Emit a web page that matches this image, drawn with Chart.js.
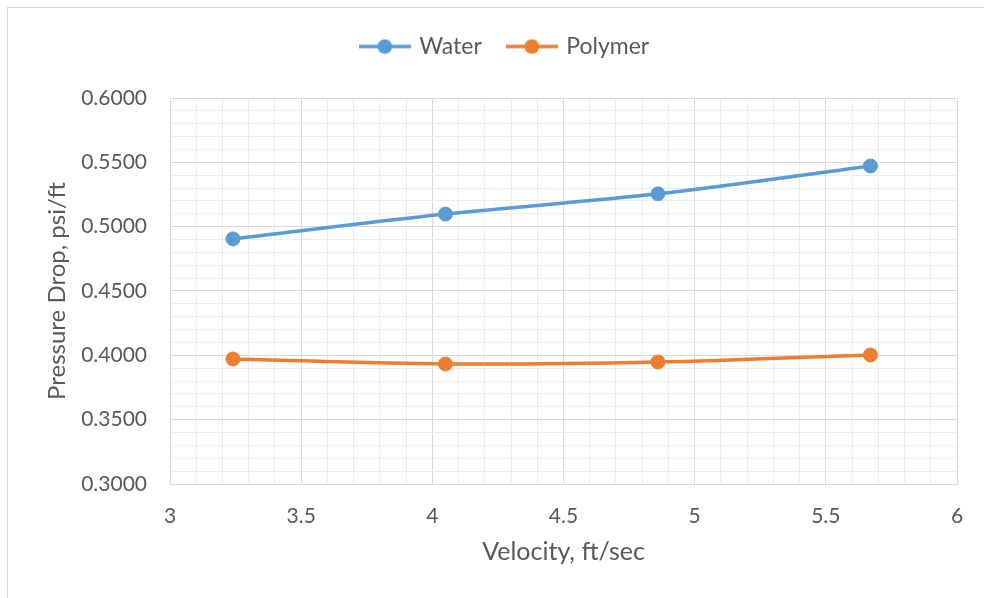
<!DOCTYPE html>
<html>
<head>
<meta charset="utf-8">
<script src="https://cdn.jsdelivr.net/npm/chart.js@4.4.1/dist/chart.umd.min.js"></script>
<style>
  html, body { margin: 0; padding: 0; background: #fff; overflow: hidden; }
  #wrap { position: relative; width: 984px; height: 598px; }
  #frame { position: absolute; left: 7px; top: 7px; width: 1100px; height: 700px; border: 1px solid #d9d9d9; }
  canvas { position: absolute; left: 0; top: 0; }
</style>
</head>
<body>
<div id="wrap">
  <div id="frame"></div>
  <canvas id="chart" width="984" height="598"></canvas>
</div>
<script>
// values
var velocity = [3.24, 4.05, 4.86, 5.67]
var water = [0.4905, 0.5098, 0.5255, 0.5472]
var polymer = [0.3972, 0.3933, 0.3948, 0.4003]
var seriesNames = ['Water', 'Polymer']
var seriesColors = ['#5B9BD5', '#ED7D31']

var textColor = '#595959'
var majorGrid = '#d9d9d9'
var minorGrid = '#ececec'
var fontFamily = 'Lato, "Open Sans", sans-serif'

function points(ys){
    var out = []
    for (var i = 0; i < velocity.length; i++){
        out.push({x: velocity[i], y: ys[i]})
    }
    return out
}

function isMajor(v, step){
    var r = v / step
    return Math.abs(r - Math.round(r)) < 1e-6
}

// little line + marker picture for the legend, like Excel draws it
function legendMark(color){
    var c = document.createElement('canvas')
    c.width = 52
    c.height = 16
    var g = c.getContext('2d')
    g.strokeStyle = color
    g.lineWidth = 3.5
    g.beginPath()
    g.moveTo(0, 8)
    g.lineTo(52, 8)
    g.stroke()
    g.fillStyle = color
    g.beginPath()
    g.arc(26, 8, 7.3, 0, Math.PI * 2)
    g.fill()
    return c
}

var datasets = [water, polymer].map(function(ys, i){
    return {
        label: seriesNames[i],
        data: points(ys),
        borderColor: seriesColors[i],
        backgroundColor: seriesColors[i],
        pointBackgroundColor: seriesColors[i],
        pointBorderColor: seriesColors[i],
        pointStyle: 'circle',
        pointRadius: 7,
        pointHoverRadius: 7,
        pointBorderWidth: 1,
        borderWidth: 3.5,
        tension: 0.33,
        fill: false
    }
})

var marks = seriesColors.map(legendMark)

var config = {
    type: 'line',
    data: { datasets: datasets },
    options: {
        responsive: false,
        animation: false,
        layout: { padding: { left: 54, right: 27, top: 8, bottom: 27 } },
        plugins: {
            tooltip: { enabled: false },
            legend: {
                position: 'top',
                labels: {
                    usePointStyle: true,
                    pointStyleWidth: 46,
                    padding: 27,
                    color: textColor,
                    font: { family: fontFamily, size: 23 },
                    generateLabels: function(chart){
                        return chart.data.datasets.map(function(ds, i){
                            return {
                                text: ds.label,
                                fillStyle: ds.borderColor,
                                strokeStyle: ds.borderColor,
                                fontColor: textColor,
                                lineWidth: 0,
                                pointStyle: marks[i],
                                datasetIndex: i,
                                hidden: false
                            }
                        })
                    }
                }
            },
            // empty box under the legend, only used as a spacer
            title: {
                display: true,
                text: '',
                weight: 500,
                font: { size: 10 },
                padding: { top: 0, bottom: 18 }
            }
        },
        scales: {
            x: {
                type: 'linear',
                min: 3,
                max: 6,
                afterFit: function(s){ s.height = 87 },
                border: { color: majorGrid },
                grid: {
                    drawTicks: false,
                    color: function(ctx){
                        return ctx.tick && isMajor(ctx.tick.value, 0.5) ? majorGrid : minorGrid
                    }
                },
                ticks: {
                    stepSize: 0.1,
                    autoSkip: false,
                    maxRotation: 0,
                    padding: 20,
                    color: textColor,
                    font: { family: fontFamily, size: 21 },
                    callback: function(v){
                        return isMajor(v, 0.5) ? String(Math.round(v * 10) / 10) : ''
                    }
                },
                title: {
                    display: true,
                    text: 'Velocity, ft/sec',
                    color: textColor,
                    padding: { top: 4, bottom: 4 },
                    font: { family: fontFamily, size: 25 }
                }
            },
            y: {
                min: 0.3,
                max: 0.6,
                afterFit: function(s){ s.width = 116 },
                border: { color: majorGrid },
                grid: {
                    drawTicks: false,
                    color: function(ctx){
                        return ctx.tick && isMajor(ctx.tick.value, 0.05) ? majorGrid : minorGrid
                    }
                },
                ticks: {
                    stepSize: 0.01,
                    autoSkip: false,
                    padding: 23,
                    color: textColor,
                    font: { family: fontFamily, size: 21 },
                    callback: function(v){
                        return isMajor(v, 0.05) ? v.toFixed(4) : ''
                    }
                },
                title: {
                    display: true,
                    text: 'Pressure Drop, psi/ft',
                    color: textColor,
                    padding: { top: -11, bottom: 4 },
                    font: { family: fontFamily, size: 24 }
                }
            }
        }
    }
}

var myChart = new Chart(document.getElementById('chart'), config)
</script>
</body>
</html>
